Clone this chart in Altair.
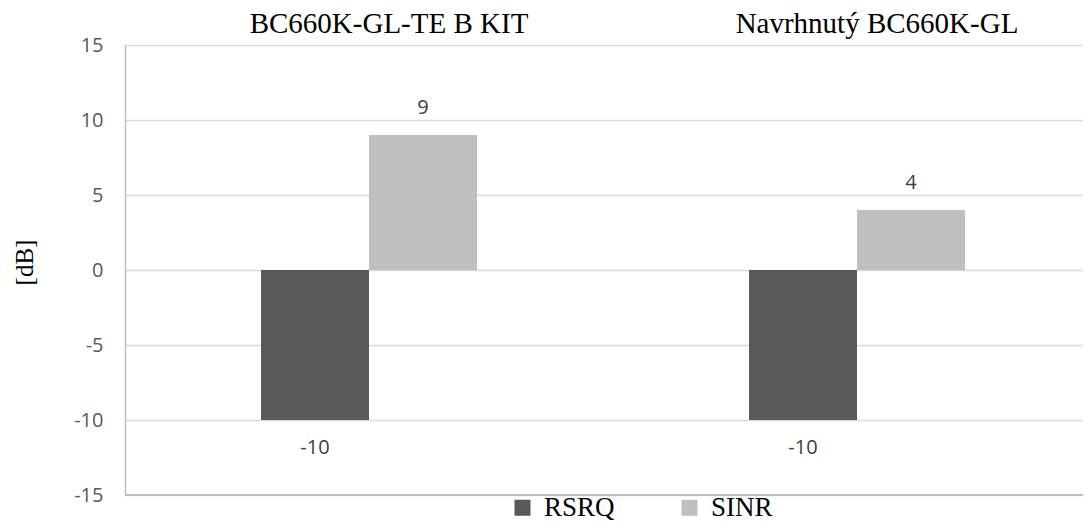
import altair as alt
import pandas as pd

categories = ["BC660K-GL-TE B KIT", "Navrhnutý BC660K-GL"]
series = ["RSRQ", "SINR"]
rsrq = [-10, -10]
sinr = [9, 4]
colors = ["#595959", "#bfbfbf"]
y_ticks = [-15, -10, -5, 0, 5, 10, 15]

rows = []
for i, c in enumerate(categories):
    rows.append({"cat": c, "series": "RSRQ", "value": rsrq[i]})
    rows.append({"cat": c, "series": "SINR", "value": sinr[i]})
df = pd.DataFrame(rows)

SERIF = "Liberation Serif"
SANS = "Open Sans"

x_enc = alt.X(
    "cat:N",
    sort=categories,
    scale=alt.Scale(range=[0, 976], paddingInner=0, paddingOuter=0),
    axis=alt.Axis(
        orient="top", title=None, domain=False, ticks=False, tickSize=0, grid=False,
        labelFont=SERIF, labelFontSize=29, labelColor="#000000", labelAngle=0,
        labelPadding=7, labelOffset=20, labelLimit=0,
    ),
)
xo_enc = alt.XOffset("series:N", sort=series,
                     scale=alt.Scale(range=[136, 352], paddingInner=0, paddingOuter=0))
y_scale = alt.Scale(domain=[-15, 15], nice=False, zero=False)

bars = alt.Chart().mark_bar(size=108).encode(
    x=x_enc,
    xOffset=xo_enc,
    y=alt.Y(
        "value:Q",
        scale=y_scale,
        axis=alt.Axis(
            values=y_ticks, title="[dB]", labelExpr="toString(datum.value)",
            domainColor="#bfbfbf", domainWidth=1.5,
            gridColor="#d9d9d9", gridWidth=1.5,
            ticks=False, tickSize=0,
            labelFont=SANS, labelFontSize=20, labelColor="#595959", labelPadding=22,
            titleFont=SERIF, titleFontSize=25, titleFontWeight="normal", titleColor="#000000",
            titleX=-101, titleY=217, titleAngle=-90, titleAlign="center", titleBaseline="middle",
        ),
    ),
    y2=alt.datum(0),
    color=alt.Color(
        "series:N", sort=series, title=None,
        scale=alt.Scale(domain=series, range=colors),
        legend=alt.Legend(
            orient="none", legendX=384, legendY=449, direction="horizontal",
            symbolType="square", symbolSize=256, symbolStrokeWidth=0,
            labelFont=SERIF, labelFontSize=27, labelColor="#000000",
            labelOffset=8, columnPadding=61,
        ),
    ),
)

txt_pos = alt.Chart().transform_filter(alt.datum.value >= 0).transform_calculate(
    lbl="toString(datum.value)"
).mark_text(
    font=SANS, fontSize=20, color="#404040", dy=-27, baseline="middle"
).encode(x=x_enc, xOffset=xo_enc, y=alt.Y("value:Q", scale=y_scale), text="lbl:N")

txt_neg = alt.Chart().transform_filter(alt.datum.value < 0).transform_calculate(
    lbl="toString(datum.value)"
).mark_text(
    font=SANS, fontSize=20, color="#404040", dy=28, baseline="middle"
).encode(x=x_enc, xOffset=xo_enc, y=alt.Y("value:Q", scale=y_scale), text="lbl:N")

base_rule = alt.Chart().mark_rule(color="#bfbfbf", strokeWidth=1.5).encode(
    y=alt.datum(-15, scale=y_scale)
)

chart = alt.layer(bars, txt_pos, txt_neg, base_rule, data=df).properties(
    width=958, height=450,
    autosize=alt.AutoSizeParams(type="none"),
    padding={"left": 117, "top": 37, "right": 0, "bottom": 27},
).configure_view(strokeWidth=0).configure(background="#ffffff")

chart.save("out.html", embed_options={"renderer": "svg", "actions": False})
